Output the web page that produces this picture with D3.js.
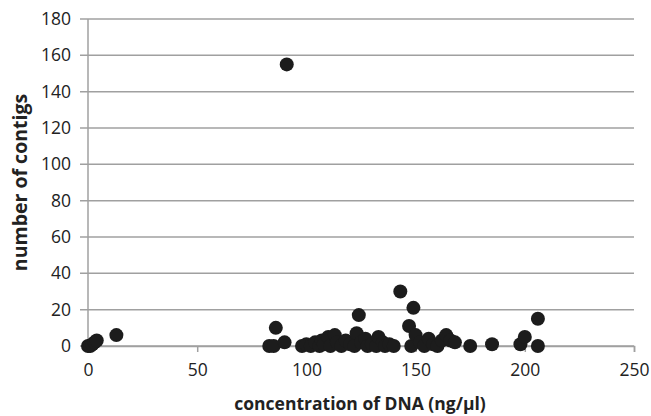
<!DOCTYPE html>
<html>
<head>
<meta charset="utf-8">
<script src="https://cdn.jsdelivr.net/npm/d3@7"></script>
<style>
  body { margin: 0; background: #fff; }
  text { font-family: "Open Sans", "Liberation Sans", sans-serif; fill: #222; }
</style>
</head>
<body>
<script>
// concentration of DNA (ng/ul) vs number of contigs
var concentration = [0, 1, 2, 3, 4, 13,
  83, 85, 86, 90, 91,
  98, 100, 102, 104, 106, 107, 108, 110, 111, 113, 114, 116, 118, 120, 122, 123, 124, 125, 127, 128, 130, 132, 133, 135, 136, 138, 140,
  143, 147, 149, 148, 150, 152, 154, 156, 158, 160, 162, 164, 166, 168, 175, 185, 198, 200, 206, 206];
var contigs = [0, 0, 1, 2, 3, 6,
  0, 0, 10, 2, 155,
  0, 1, 0, 2, 0, 3, 1, 5, 0, 6, 2, 0, 3, 1, 0, 7, 17, 2, 4, 0, 1, 0, 5, 2, 0, 1, 0,
  30, 11, 21, 0, 6, 2, 0, 4, 1, 0, 3, 6, 3, 2, 0, 1, 1, 5, 15, 0];
var xTicks = [0, 50, 100, 150, 200, 250];
var yTicks = [0, 20, 40, 60, 80, 100, 120, 140, 160, 180];

var W = 651, H = 416;
var margin = {left: 88, right: 17, top: 19, bottom: 70};

var svg = d3.select("body").append("svg")
  .attr("width", W)
  .attr("height", H);

var x = d3.scaleLinear().domain([0, 250]).range([margin.left, W - margin.right]);
var y = d3.scaleLinear().domain([0, 180]).range([H - margin.bottom, margin.top]);

// gridlines
svg.append("g")
  .selectAll("line")
  .data(yTicks)
  .enter()
  .append("line")
  .attr("x1", x(0) - 8)
  .attr("x2", x(250))
  .attr("y1", function(d) { return y(d); })
  .attr("y2", function(d) { return y(d); })
  .attr("stroke", "#a0a0a0")
  .attr("stroke-width", 1.5);

// y axis line
svg.append("line")
  .attr("x1", x(0)).attr("x2", x(0))
  .attr("y1", y(180)).attr("y2", y(0))
  .attr("stroke", "#a0a0a0")
  .attr("stroke-width", 1.5);

// x axis
var xAxis = svg.append("g")
  .attr("transform", "translate(0," + y(0) + ")")
  .call(d3.axisBottom(x).tickValues(xTicks).tickSize(6).tickPadding(12));
xAxis.select(".domain").attr("stroke", "#a0a0a0").attr("stroke-width", 1.5);
xAxis.selectAll(".tick line").attr("stroke", "#a0a0a0").attr("stroke-width", 1.5);
xAxis.selectAll("text").style("font-size", "17.5px").attr("fill", "#222");

// y tick labels
svg.append("g")
  .selectAll("text")
  .data(yTicks)
  .enter()
  .append("text")
  .attr("x", x(0) - 17)
  .attr("y", function(d) { return y(d); })
  .attr("dy", "0.35em")
  .attr("text-anchor", "end")
  .style("font-size", "17.5px")
  .text(function(d) { return d; });

// points
svg.append("g")
  .selectAll("circle")
  .data(concentration)
  .enter()
  .append("circle")
  .attr("cx", function(d) { return x(d); })
  .attr("cy", function(d, i) { return y(contigs[i]); })
  .attr("r", 7)
  .attr("fill", "#1c1c1c");

// axis titles
svg.append("text")
  .attr("x", (x(0) + x(250)) / 2 - 1)
  .attr("y", 410)
  .attr("text-anchor", "middle")
  .style("font-size", "17.5px")
  .style("font-weight", "bold")
  .text("concentration of DNA (ng/\u00b5l)");

svg.append("text")
  .attr("transform", "translate(27," + ((y(0) + y(180)) / 2) + ") rotate(-90)")
  .attr("text-anchor", "middle")
  .style("font-size", "19.5px")
  .style("font-weight", "bold")
  .text("number of contigs");
</script>
</body>
</html>
